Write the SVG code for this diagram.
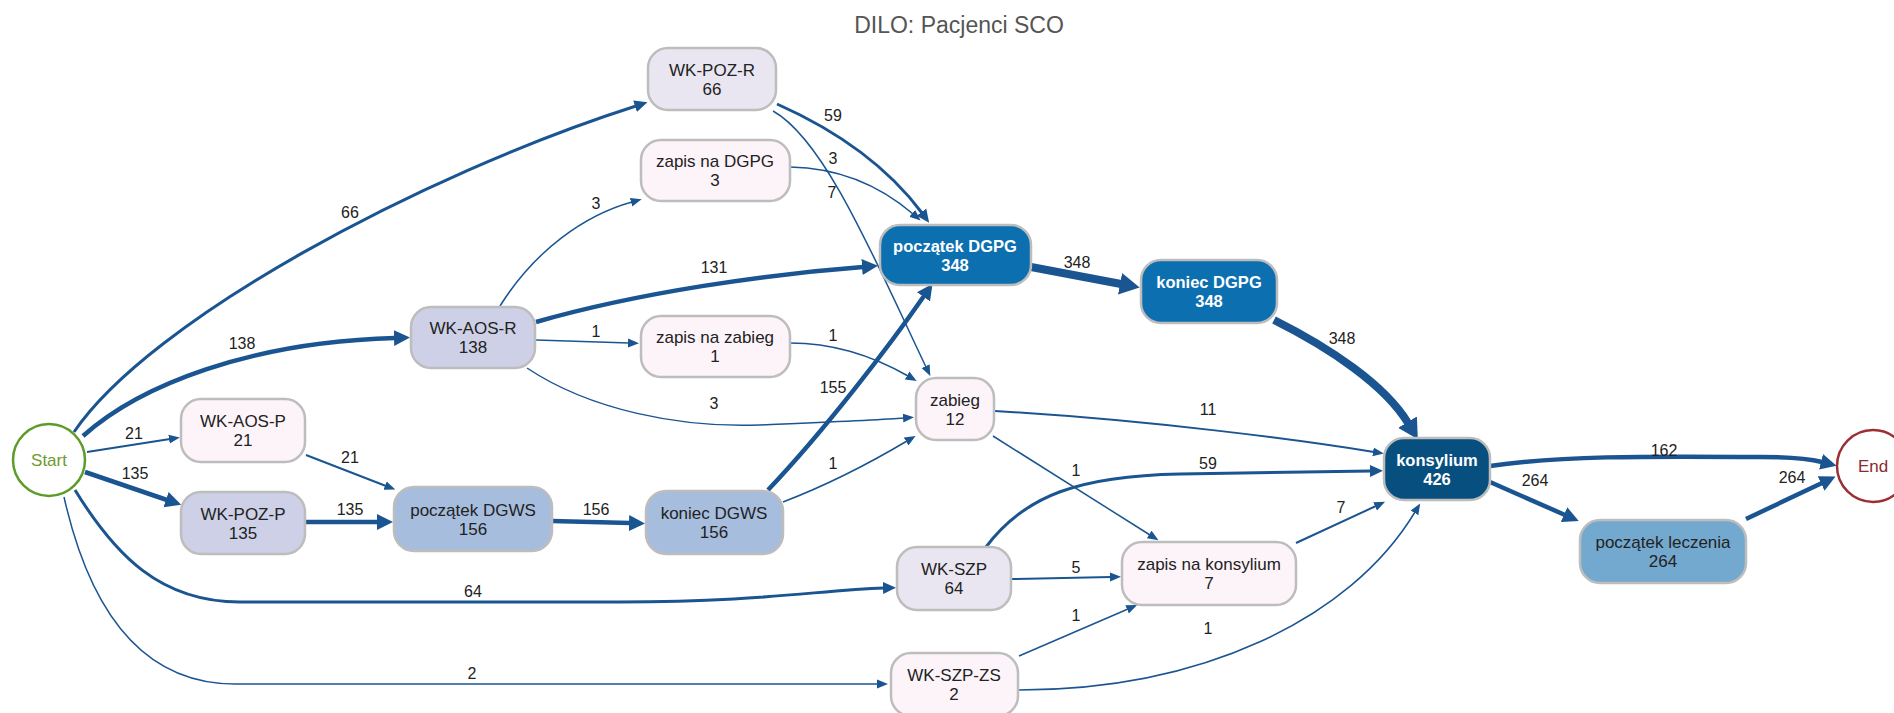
<svg xmlns="http://www.w3.org/2000/svg" width="1894" height="713" viewBox="0 0 1894 713">
<style>
text{font-family:"Liberation Sans",Arial,sans-serif}
.title{font-size:23px;fill:#555;text-anchor:middle}
.n rect{stroke:#bdbdbd;stroke-width:2.5}
.n text{font-size:17px;fill:#222;text-anchor:middle}
.n.dark text{fill:#fff;font-weight:bold;font-size:16.5px}
.e path{fill:none;stroke:#1a5591}
.lbl text{font-size:16px;fill:#222;text-anchor:middle}
.w1{stroke-width:1.5}
.w2{stroke-width:2}
.w3{stroke-width:3}
.w5{stroke-width:4.5}
.w8{stroke-width:8}
</style>
<defs>
<marker id="m1" markerUnits="userSpaceOnUse" markerWidth="12" markerHeight="10" viewBox="0 -5 12 10" refX="1" refY="0" orient="auto"><path d="M0,-4.5 L11,0 L0,4.5 Z" fill="#1a5591"/></marker>
<marker id="m3" markerUnits="userSpaceOnUse" markerWidth="14" markerHeight="13" viewBox="0 -6.5 14 13" refX="1" refY="0" orient="auto"><path d="M0,-6 L13,0 L0,6 Z" fill="#1a5591"/></marker>
<marker id="m5" markerUnits="userSpaceOnUse" markerWidth="17" markerHeight="17" viewBox="0 -8.5 17 17" refX="1" refY="0" orient="auto"><path d="M0,-8 L16,0 L0,8 Z" fill="#1a5591"/></marker>
<marker id="m8" markerUnits="userSpaceOnUse" markerWidth="21" markerHeight="23" viewBox="0 -11.5 21 23" refX="1" refY="0" orient="auto"><path d="M0,-11 L20,0 L0,11 Z" fill="#1a5591"/></marker>
</defs>
<rect width="1894" height="713" fill="#fff"/>
<text class="title" x="959" y="33">DILO: Pacjenci SCO</text>

<g id="edges" class="e">
<path class="w3" marker-end="url(#m3)" d="M74,432 C150,320 420,175 636,106"/>
<path class="w5" marker-end="url(#m5)" d="M83,436 C140,385 250,342 395,338"/>
<path class="w2" marker-end="url(#m1)" d="M87,452 L170,439"/>
<path class="w5" marker-end="url(#m5)" d="M85,472 L167,500"/>
<path class="w3" marker-end="url(#m3)" d="M75,490 C115,555 160,602 240,602 L620,602 C760,602 820,590 884,588"/>
<path class="w1" marker-end="url(#m1)" d="M64,497 C85,590 130,684 235,684 L878,684"/>
<path class="w3" marker-end="url(#m3)" d="M777,104 C840,132 890,170 922,213"/>
<path class="w1" marker-end="url(#m1)" d="M773,111 C825,140 875,260 926,367"/>
<path class="w1" marker-end="url(#m1)" d="M790,167 C845,168 885,190 913,214"/>
<path class="w1" marker-end="url(#m1)" d="M500,306 C535,250 585,215 632,202"/>
<path class="w5" marker-end="url(#m5)" d="M536,322 C640,292 770,274 863,267"/>
<path class="w1" marker-end="url(#m1)" d="M536,340 L629,343"/>
<path class="w1" marker-end="url(#m1)" d="M527,368 C590,410 680,428 760,425 C830,422 880,420 904,418"/>
<path class="w1" marker-end="url(#m1)" d="M790,343 C840,343 880,360 908,376"/>
<path class="w2" marker-end="url(#m1)" d="M306,455 L386,486"/>
<path class="w5" marker-end="url(#m5)" d="M305,522 L378,522"/>
<path class="w5" marker-end="url(#m5)" d="M552,521 L630,523"/>
<path class="w5" marker-end="url(#m5)" d="M768,490 C825,430 890,345 924,296"/>
<path class="w1" marker-end="url(#m1)" d="M783,502 C830,484 875,460 907,441"/>
<path class="w8" marker-end="url(#m8)" d="M1031,267 L1121,284"/>
<path class="w8" marker-end="url(#m8)" d="M1274,320 C1330,348 1385,385 1408,423"/>
<path class="w2" marker-end="url(#m1)" d="M995,411 C1150,420 1300,440 1374,452"/>
<path class="w1" marker-end="url(#m1)" d="M993,436 L1150,535"/>
<path class="w3" marker-end="url(#m3)" d="M986,547 C1025,495 1080,476 1180,474 L1371,471"/>
<path class="w2" marker-end="url(#m1)" d="M1012,579 L1111,577"/>
<path class="w1" marker-end="url(#m1)" d="M1019,656 L1128,609"/>
<path class="w1" marker-end="url(#m1)" d="M1019,690 C1200,690 1350,620 1415,512"/>
<path class="w2" marker-end="url(#m1)" d="M1296,543 L1376,506"/>
<path class="w5" marker-end="url(#m5)" d="M1490,466 C1560,456 1640,456 1760,457 C1795,457 1810,459 1822,462"/>
<path class="w5" marker-end="url(#m5)" d="M1490,482 L1565,515"/>
<path class="w5" marker-end="url(#m5)" d="M1746,519 L1822,483"/>
</g>

<g id="edge-labels" class="lbl">
<text x="350" y="218">66</text>
<text x="242" y="349">138</text>
<text x="134" y="439">21</text>
<text x="135" y="479">135</text>
<text x="473" y="597">64</text>
<text x="472" y="679">2</text>
<text x="350" y="463">21</text>
<text x="350" y="515">135</text>
<text x="596" y="515">156</text>
<text x="833" y="121">59</text>
<text x="833" y="164">3</text>
<text x="832" y="198">7</text>
<text x="596" y="209">3</text>
<text x="714" y="273">131</text>
<text x="596" y="337">1</text>
<text x="833" y="341">1</text>
<text x="1077" y="268">348</text>
<text x="1342" y="344">348</text>
<text x="833" y="393">155</text>
<text x="714" y="409">3</text>
<text x="1208" y="415">11</text>
<text x="833" y="469">1</text>
<text x="1208" y="469">59</text>
<text x="1076" y="476">1</text>
<text x="1076" y="573">5</text>
<text x="1076" y="621">1</text>
<text x="1208" y="634">1</text>
<text x="1341" y="513">7</text>
<text x="1664" y="456">162</text>
<text x="1535" y="486">264</text>
<text x="1792" y="483">264</text>
</g>

<g id="start">
<circle cx="49" cy="460" r="36" fill="#fff" stroke="#5e9c2a" stroke-width="2.5"/>
<text x="49" y="466" font-size="17" fill="#6d9c2e" text-anchor="middle">Start</text>
</g>
<g id="end">
<circle cx="1873" cy="466" r="36" fill="#fff" stroke="#9b2f35" stroke-width="2.5"/>
<text x="1873" y="472" font-size="17" fill="#8b2a30" text-anchor="middle">End</text>
</g>

<g id="wk-poz-r" class="n"><rect x="648" y="48" width="128" height="62" rx="20" fill="#e9e6f2"/><text x="712" y="76">WK-POZ-R</text><text x="712" y="95">66</text></g>
<g id="zapis-dgpg" class="n"><rect x="641" y="140" width="149" height="61" rx="20" fill="#fdf4fa"/><text x="715" y="167">zapis na DGPG</text><text x="715" y="186">3</text></g>
<g id="wk-aos-r" class="n"><rect x="411" y="307" width="124" height="61" rx="20" fill="#cdd0e6"/><text x="473" y="334">WK-AOS-R</text><text x="473" y="353">138</text></g>
<g id="zapis-zabieg" class="n"><rect x="641" y="316" width="149" height="61" rx="20" fill="#fdf4fa"/><text x="715" y="343">zapis na zabieg</text><text x="715" y="362">1</text></g>
<g id="poczatek-dgpg" class="n dark"><rect x="880" y="225" width="151" height="60" rx="20" fill="#0b6fb0"/><text x="955" y="252">początek DGPG</text><text x="955" y="271">348</text></g>
<g id="koniec-dgpg" class="n dark"><rect x="1141" y="260" width="136" height="63" rx="20" fill="#0b6fb0"/><text x="1209" y="288">koniec DGPG</text><text x="1209" y="307">348</text></g>
<g id="zabieg" class="n"><rect x="916" y="378" width="78" height="62" rx="20" fill="#fdf4fa"/><text x="955" y="406">zabieg</text><text x="955" y="425">12</text></g>
<g id="wk-aos-p" class="n"><rect x="181" y="399" width="124" height="63" rx="20" fill="#fdf4fa"/><text x="243" y="427">WK-AOS-P</text><text x="243" y="446">21</text></g>
<g id="wk-poz-p" class="n"><rect x="181" y="492" width="124" height="62" rx="20" fill="#cdd0e6"/><text x="243" y="520">WK-POZ-P</text><text x="243" y="539">135</text></g>
<g id="poczatek-dgws" class="n"><rect x="394" y="487" width="158" height="64" rx="20" fill="#a6bddd"/><text x="473" y="516">początek DGWS</text><text x="473" y="535">156</text></g>
<g id="koniec-dgws" class="n"><rect x="646" y="491" width="137" height="63" rx="20" fill="#a6bddd"/><text x="714" y="519">koniec DGWS</text><text x="714" y="538">156</text></g>
<g id="konsylium" class="n dark"><rect x="1384" y="438" width="106" height="62" rx="20" fill="#074f7f"/><text x="1437" y="466">konsylium</text><text x="1437" y="485">426</text></g>
<g id="wk-szp" class="n"><rect x="897" y="547" width="114" height="63" rx="20" fill="#e9e6f2"/><text x="954" y="575">WK-SZP</text><text x="954" y="594">64</text></g>
<g id="zapis-konsylium" class="n"><rect x="1122" y="542" width="174" height="63" rx="20" fill="#fdf4fa"/><text x="1209" y="570">zapis na konsylium</text><text x="1209" y="589">7</text></g>
<g id="poczatek-leczenia" class="n"><rect x="1580" y="520" width="166" height="63" rx="20" fill="#74a9cf"/><text x="1663" y="548">początek leczenia</text><text x="1663" y="567">264</text></g>
<g id="wk-szp-zs" class="n"><rect x="891" y="653" width="127" height="63" rx="20" fill="#fdf4fa"/><text x="954" y="681">WK-SZP-ZS</text><text x="954" y="700">2</text></g>
</svg>
